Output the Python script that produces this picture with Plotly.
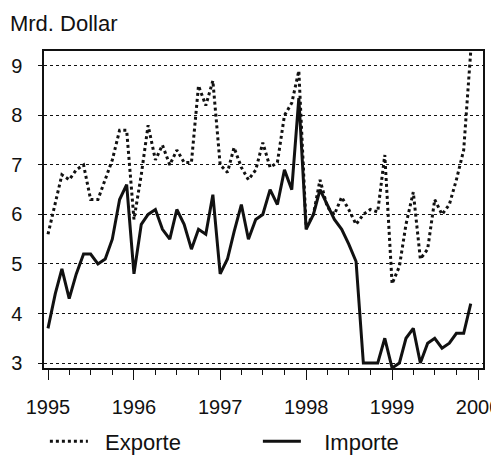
import pandas as pd
import plotly.graph_objects as go

months = pd.date_range("1995-01-01", periods=60, freq="MS")

exporte = [
    5.6, 6.2, 6.8, 6.7, 6.9, 7.0, 6.3, 6.3, 6.7, 7.1, 7.7, 7.7,
    5.9, 6.8, 7.8, 7.1, 7.4, 7.0, 7.3, 7.05, 7.05, 8.6, 8.2, 8.7,
    7.0, 6.85, 7.35, 6.95, 6.7, 6.9, 7.45, 6.95, 7.05, 8.0, 8.25, 8.9,
    5.75, 6.0, 6.7, 6.15, 6.0, 6.35, 6.1, 5.8, 6.0, 6.1, 6.05, 7.2,
    4.6, 4.95, 5.8, 6.45, 5.1, 5.3, 6.3, 6.0, 6.2, 6.7, 7.3, 9.3,
]
importe = [
    3.7, 4.4, 4.9, 4.3, 4.8, 5.2, 5.2, 5.0, 5.1, 5.5, 6.3, 6.6,
    4.8, 5.8, 6.0, 6.1, 5.7, 5.5, 6.1, 5.8, 5.3, 5.7, 5.6, 6.4,
    4.8, 5.1, 5.65, 6.2, 5.5, 5.9, 6.0, 6.5, 6.2, 6.9, 6.5, 8.35,
    5.7, 6.0, 6.5, 6.2, 5.9, 5.7, 5.4, 5.05, 3.0, 3.0, 3.0, 3.5,
    2.9, 3.0, 3.5, 3.7, 3.0, 3.4, 3.5, 3.3, 3.4, 3.6, 3.6, 4.2,
]
y_ticks = [3, 4, 5, 6, 7, 8, 9]
year_ticks = ["1995-01-01", "1996-01-01", "1997-01-01", "1998-01-01", "1999-01-01", "2000-01-01"]
year_labels = ["1995", "1996", "1997", "1998", "1999", "2000"]
series_names = ["Exporte", "Importe"]
unit_label = "Mrd. Dollar"

FONT = "Liberation Sans, Arial, sans-serif"

fig = go.Figure()
fig.add_trace(go.Scatter(
    x=months, y=exporte, mode="lines", name="\u00a0\u00a0" + series_names[0],
    line=dict(color="#111111", width=3, dash="3px,3px"),
))
fig.add_trace(go.Scatter(
    x=months, y=importe, mode="lines", name="\u00a0\u00a0\u00a0" + series_names[1],
    line=dict(color="#111111", width=3),
))

# page body adds an 8px offset, so the figure is 8px smaller on each side
fig.update_layout(
    width=491, height=447,
    margin=dict(l=36, r=16, t=43, b=87, autoexpand=False),
    paper_bgcolor="white", plot_bgcolor="white",
    font=dict(family=FONT, size=20, color="#111111"),
    title=dict(text=unit_label, x=0.004, xanchor="left", y=0.966, yanchor="middle",
               font=dict(family=FONT, size=22, color="#111111")),
    showlegend=True,
    legend=dict(orientation="h", x=0.002, xanchor="left", y=-0.232, yanchor="middle",
                itemwidth=38, entrywidth=160, font=dict(size=22),
                bgcolor="rgba(0,0,0,0)"),
)
fig.update_xaxes(
    type="date",
    range=["1994-12-15", "2000-01-22"],
    tickvals=year_ticks,
    ticktext=year_labels,
    ticklabeloverflow="allow",
    ticks="outside", ticklen=10, tickwidth=1, tickcolor="#111111",
    minor=dict(dtick="M3", ticks="outside", ticklen=5, tickwidth=1, tickcolor="#111111", showgrid=False),
    showgrid=False, zeroline=False,
    showline=True, linecolor="#111111", linewidth=1.5, mirror=True,
    ticklabelstandoff=10,
)
fig.update_yaxes(
    range=[2.9, 9.3],
    tickvals=y_ticks,
    ticks="outside", ticklen=4, tickwidth=1, tickcolor="#111111",
    showgrid=True, gridcolor="#111111", gridwidth=1, griddash="dot",
    zeroline=False,
    showline=True, linecolor="#111111", linewidth=1.5, mirror=True,
    ticklabelstandoff=12,
)

fig.write_html("out.html")
